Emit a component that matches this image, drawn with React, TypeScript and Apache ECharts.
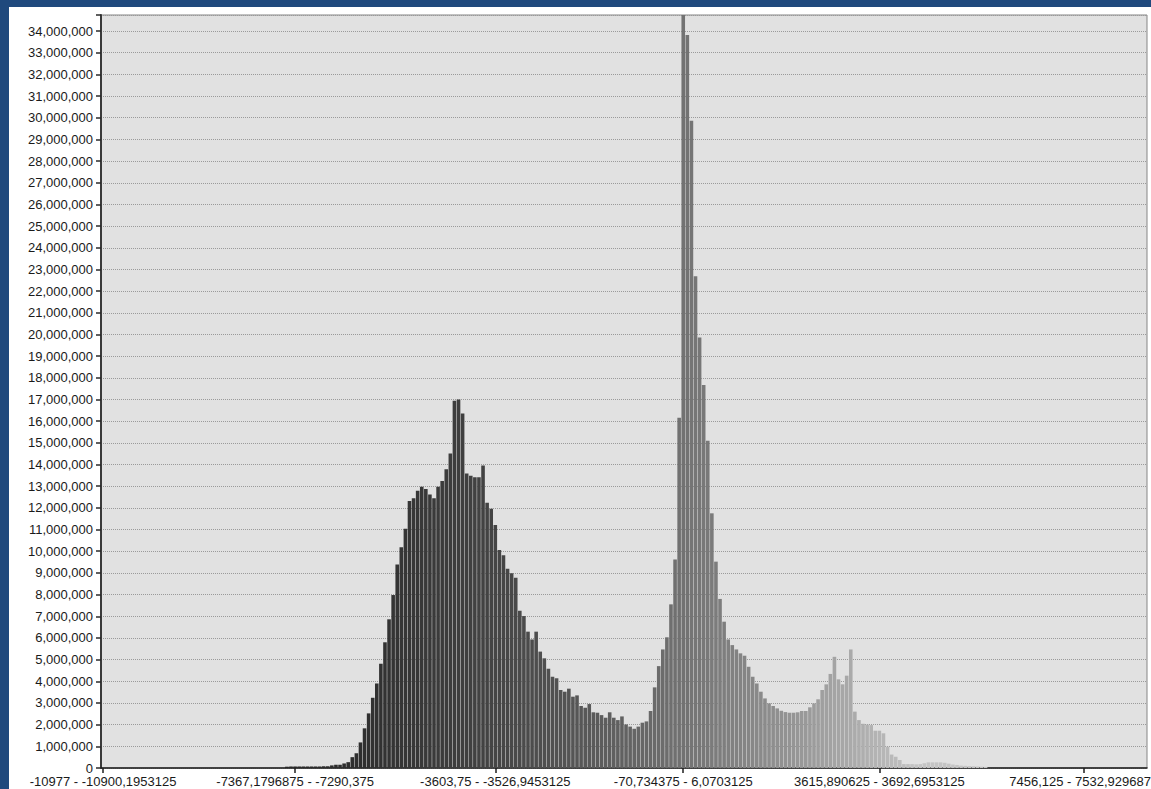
import { useEffect, useRef } from "react";
import * as echarts from "echarts";

// Histogram bins: 256 bins starting at -10977, width 76.8046875
const BIN_START = -10977;
const BIN_WIDTH = 76.8046875;

// Pixel counts per bin, in millions
const zerosLeft = new Array(45).fill(0); // bins 0..44
const countsMode1 = [
  0.06, 0.07, 0.07, 0.07, 0.07, 0.07, 0.07, 0.07, 0.07, 0.08, // 45-54
  0.08, 0.12, 0.15, 0.15, 0.21, 0.27, 0.5, 0.68, 1.18, 1.83, // 55-64
  2.52, 3.24, 3.9, 4.81, 5.8, 6.86, 7.98, 9.39, 10.18, 11.04, // 65-74
  12.32, 12.44, 12.79, 12.98, 12.87, 12.62, 12.44, 12.98, 13.24, 13.78, // 75-84
  14.51, 16.94, 17.0, 16.36, 13.59, 13.48, 13.41, 13.41, 13.96, 12.24, // 85-94
  11.96, 11.21, 10.06, 9.81, 9.19, 8.98, 8.78, 7.26, 7.01, 6.29, // 95-104
  5.93, 6.29, 5.37, 5.06, 4.58, 4.21, 4.14, 3.6, 3.52, 3.66, // 105-114
  3.29, 3.35, 2.86, 2.78, 2.95, 2.57, 2.55, 2.44, 2.32, 2.57, // 115-124
  2.32, 2.21, 2.38, 2.01, 1.91, 1.81, 1.91, 2.09, 2.15, 2.63, // 125-134
  3.72, 4.7, 5.47, 6.03, 7.55, 9.62, 16.16, // 135-141
];
const countsMode2 = [
  36.5, 33.82, 29.86, 22.69, 19.86, 17.67, 15.1, 11.75, // 142-149
  9.52, 7.8, 6.75, 5.93, 5.67, 5.47, 5.29, 5.18, 4.67, 4.21, // 150-159
  3.9, 3.52, 3.21, 2.98, 2.86, 2.75, 2.64, 2.58, 2.55, 2.55, // 160-169
  2.57, 2.63, 2.63, 2.8, 2.98, 3.17, 3.6, 3.86, 4.34, 5.13, // 170-179
  4.09, 3.86, 4.26, 5.47, 2.6, 2.21, 2.04, 2.0, 1.98, 1.72, // 180-189
  1.72, 1.6, 0.98, 0.62, 0.52, 0.37, 0.18, 0.18, 0.18, 0.17, // 190-199
  0.18, 0.22, 0.26, 0.26, 0.26, 0.26, 0.24, 0.2, 0.16, 0.14, // 200-209
  0.11, 0.1, 0.09, 0.08, 0.07, 0.06, 0.05, // 210-216
];
const zerosRight = new Array(39).fill(0); // bins 217..255

const countsMillions = [...zerosLeft, ...countsMode1, ...countsMode2, ...zerosRight];

// Bins whose range is shown as an x tick label
const tickBins = [0, 47, 96, 142, 190, 240];

// y axis: labelled every 1,000,000 up to 34,000,000; plot top slightly above
const Y_STEP = 1000000;
const Y_LAST_LABEL = 34000000;
const Y_MAX = 34740000;

const fmtNum = (n: number) => String(n).replace(".", ",");
const categories = countsMillions.map(
  (_, i) => `${fmtNum(BIN_START + i * BIN_WIDTH)} - ${fmtNum(BIN_START + (i + 1) * BIN_WIDTH)}`
);

const barGray = (i: number) => {
  const g = Math.max(20, Math.min(196, Math.round(32 - 0.025 * i + 0.00425 * i * i)));
  return `rgb(${g},${g},${g})`;
};

const FONT = "Liberation Sans";

export default function App() {
  const ref = useRef<HTMLDivElement>(null);

  useEffect(() => {
    if (!ref.current) return;
    const chart = echarts.init(ref.current, null, { renderer: "svg" });
    const isTick = (idx: number) => tickBins.indexOf(idx) >= 0;
    chart.setOption({
      animation: false,
      backgroundColor: "#ffffff",
      grid: {
        left: 92,
        top: 8,
        width: 1046,
        height: 753,
        show: true,
        backgroundColor: "#e1e1e1",
        borderColor: "#858585",
        borderWidth: 1,
      },
      xAxis: {
        type: "category",
        data: categories,
        boundaryGap: true,
        axisLine: { show: true, lineStyle: { color: "#1e1e1e", width: 1.5 } },
        axisTick: {
          show: true,
          alignWithLabel: true,
          interval: (idx: number) => isTick(idx),
          length: 5,
          lineStyle: { color: "#1e1e1e", width: 1.5 },
        },
        axisLabel: {
          show: true,
          interval: (idx: number) => isTick(idx),
          margin: 7,
          fontFamily: FONT,
          fontSize: 13,
          color: "#1a1a1a",
        },
        splitLine: { show: false },
      },
      yAxis: {
        type: "value",
        min: 0,
        max: Y_MAX,
        interval: Y_STEP,
        axisLine: { show: true, lineStyle: { color: "#3a3a3a", width: 2 } },
        axisTick: {
          show: true,
          length: 5,
          lineStyle: { color: "#2a2a2a", width: 1.5 },
        },
        axisLabel: {
          show: true,
          margin: 8,
          fontFamily: FONT,
          fontSize: 13,
          color: "#1a1a1a",
          formatter: (v: number) =>
            v % Y_STEP === 0 && v <= Y_LAST_LABEL ? v.toLocaleString("en-US") : "",
        },
        splitLine: {
          show: true,
          lineStyle: { color: "#9a9a9a", width: 1, type: [1, 1] },
        },
      },
      series: [
        {
          type: "bar",
          data: countsMillions.map((v) => v * 1000000),
          barCategoryGap: "12%",
          clip: true,
          silent: true,
          itemStyle: {
            color: (p: any) => barGray(p.dataIndex),
          },
        },
      ],
    });
    return () => chart.dispose();
  }, []);

  return (
    <div
      style={{
        position: "fixed",
        left: 0,
        top: 0,
        width: 1151,
        height: 789,
        background: "#1f497d",
        overflow: "hidden",
      }}
    >
      <div
        style={{
          position: "absolute",
          left: 9,
          top: 7,
          width: 1142,
          height: 782,
          background: "#ffffff",
          overflow: "hidden",
        }}
      >
        <div ref={ref} style={{ width: 1200, height: 782 }} />
      </div>
    </div>
  );
}
